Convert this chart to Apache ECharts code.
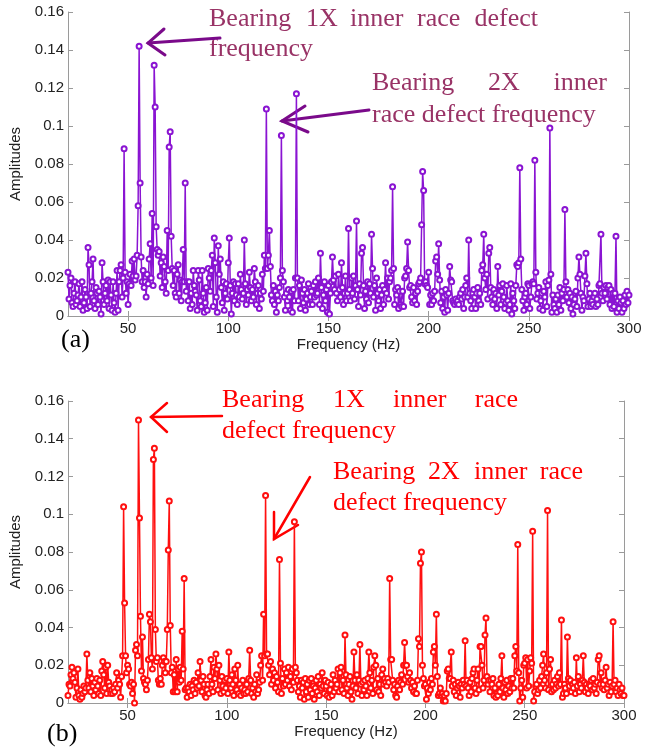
<!DOCTYPE html>
<html>
<head>
<meta charset="utf-8">
<script src="https://cdn.jsdelivr.net/npm/echarts@6/dist/echarts.min.js"></script>
<style>html,body{margin:0;padding:0;background:#fff}#c{width:657px;height:750px}</style>
</head>
<body>
<div id="c"></div>
<script>
// Frequency grid (Hz): first bin and bin spacing
const fStart = 20;
const fStep = 0.5;
const xTicks = [50, 100, 150, 200, 250, 300];

// (a) amplitudes, one row per 10 Hz (20 bins each), final value at 300 Hz
const ampA = [
.023,.009,.016,.020,.007,.005,.012,.018,.006,.008,.011,.017,.005,.010,.018,.003,.007,.014,.010,.004,
.036,.027,.005,.012,.018,.030,.008,.004,.015,.012,.006,.013,.010,.001,.028,.018,.006,.012,.016,.008,
.019,.004,.018,.011,.003,.018,.007,.002,.012,.024,.003,.018,.024,.027,.010,.020,.088,.023,.012,.018,
.006,.017,.022,.016,.029,.021,.030,.019,.021,.032,.058,.142,.070,.031,.018,.024,.015,.018,.010,.022,
.017,.030,.038,.020,.054,.016,.132,.110,.047,.035,.032,.034,.021,.028,.015,.031,.026,.018,.012,.045,
.024,.089,.097,.042,.025,.016,.024,.012,.010,.022,.027,.012,.019,.008,.018,.035,.018,.070,.013,.018,
.008,.018,.004,.012,.006,.024,.016,.013,.011,.003,.024,.019,.008,.005,.024,.012,.002,.007,.015,.003,
.025,.020,.013,.024,.032,.005,.041,.028,.010,.002,.037,.022,.030,.015,.007,.018,.003,.012,.017,.009,
.028,.041,.016,.001,.012,.018,.008,.017,.011,.006,.017,.010,.022,.014,.009,.012,.040,.017,.006,.014,
.011,.023,.015,.008,.014,.010,.025,.018,.006,.012,.016,.004,.012,.009,.022,.013,.032,.025,.109,.025,
.032,.045,.026,.011,.008,.016,.006,.013,.002,.011,.008,.015,.020,.095,.024,.018,.010,.003,.012,.008,
.014,.010,.003,.013,.002,.014,.008,.020,.117,.020,.008,.016,.004,.019,.012,.007,.014,.003,.009,.012,
.017,.006,.010,.013,.006,.016,.010,.018,.011,.012,.020,.006,.033,.015,.004,.011,.018,.008,.014,.002,
.016,.001,.012,.018,.031,.019,.014,.021,.012,.008,.022,.014,.010,.028,.015,.006,.012,.021,.008,.012,
.046,.014,.008,.020,.012,.021,.009,.016,.050,.014,.005,.017,.011,.033,.036,.016,.004,.013,.009,.018,
.007,.017,.012,.043,.025,.010,.016,.003,.020,.012,.008,.014,.004,.011,.016,.006,.014,.028,.012,.020,
.009,.018,.020,.024,.068,.025,.006,.014,.011,.015,.004,.013,.006,.005,.013,.005,.020,.021,.025,.039,
.024,.015,.016,.010,.007,.015,.008,.012,.006,.013,.017,.018,.020,.048,.076,.066,.017,.018,.016,.015,
.023,.006,.011,.006,.012,.008,.013,.029,.031,.022,.038,.019,.007,.013,.004,.010,.002,.014,.011,.003,
.012,.026,.019,.018,.008,.007,.006,.009,.007,.008,.006,.010,.012,.009,.014,.004,.010,.016,.020,.010,
.040,.012,.008,.004,.012,.014,.010,.004,.012,.015,.008,.012,.006,.024,.027,.043,.020,.014,.022,.009,
.033,.036,.015,.010,.006,.014,.009,.012,.004,.026,.011,.016,.006,.013,.017,.010,.004,.007,.016,.008,
.003,.006,.017,.001,.012,.008,.004,.016,.027,.026,.028,.078,.030,.014,.008,.003,.010,.012,.006,.017,
.016,.004,.010,.017,.018,.017,.082,.023,.009,.012,.015,.004,.008,.012,.003,.013,.010,.018,.005,.016,
.019,.099,.022,.002,.011,.006,.004,.009,.002,.011,.006,.015,.003,.012,.008,.014,.056,.018,.010,.014,
.007,.012,.004,.010,.001,.006,.009,.013,.005,.020,.031,.022,.012,.003,.010,.008,.021,.033,.017,.005,
.009,.012,.005,.008,.006,.010,.012,.005,.009,.006,.016,.017,.043,.012,.008,.015,.012,.016,.009,.015,
.016,.006,.014,.004,.012,.005,.012,.042,.002,.008,.004,.010,.007,.002,.008,.004,.011,.006,.013,.007,
.011
];

// (b) amplitudes, same bins
const ampB = [
.004,.010,.009,.015,.019,.013,.016,.011,.003,.008,.018,.004,.002,.007,.003,.005,.009,.006,.008,.026,
.012,.008,.016,.006,.013,.009,.004,.011,.007,.013,.009,.005,.012,.004,.017,.022,.015,.008,.019,.005,
.020,.011,.009,.005,.007,.005,.008,.006,.010,.016,.008,.012,.010,.003,.014,.025,.104,.053,.025,.016,
.020,.018,.010,.009,.011,.005,.010,.000,.028,.031,.025,.150,.098,.046,.017,.035,.013,.011,.010,.007,
.012,.023,.047,.043,.024,.018,.129,.135,.039,.022,.024,.012,.010,.013,.010,.020,.024,.022,.016,.022,
.039,.081,.107,.041,.016,.019,.006,.015,.006,.023,.006,.018,.011,.019,.012,.038,.018,.066,.007,.008,
.003,.008,.006,.010,.004,.009,.007,.012,.005,.011,.008,.016,.009,.022,.012,.006,.014,.010,.004,.003,
.007,.010,.005,.014,.023,.010,.006,.019,.013,.026,.018,.007,.020,.012,.005,.014,.009,.006,.012,.008,
.013,.005,.027,.012,.008,.015,.010,.004,.018,.012,.007,.020,.005,.010,.004,.008,.012,.005,.007,.005,
.010,.006,.013,.028,.012,.005,.008,.003,.010,.006,.015,.005,.007,.011,.020,.025,.012,.047,.025,.110,
.026,.026,.020,.015,.022,.010,.018,.012,.016,.008,.014,.011,.006,.076,.021,.005,.013,.009,.018,.010,
.016,.012,.019,.009,.014,.007,.018,.011,.096,.019,.016,.012,.006,.009,.003,.012,.008,.011,.002,.013,
.006,.010,.003,.012,.007,.013,.005,.009,.002,.008,.012,.006,.014,.004,.010,.008,.016,.009,.005,.012,
.009,.004,.011,.003,.007,.010,.004,.015,.006,.012,.008,.010,.018,.006,.016,.019,.007,.012,.005,.036,
.015,.008,.004,.010,.014,.006,.002,.009,.027,.012,.008,.015,.005,.012,.031,.010,.004,.011,.007,.012,
.009,.004,.013,.027,.016,.008,.012,.005,.019,.025,.020,.007,.013,.006,.010,.004,.015,.018,.010,.013,
.011,.009,.013,.011,.066,.023,.023,.012,.007,.010,.004,.003,.009,.012,.007,.011,.015,.010,.020,.032,
.020,.020,.014,.011,.016,.012,.008,.011,.006,.009,.005,.005,.012,.034,.030,.074,.080,.020,.013,.009,
.010,.002,.008,.005,.011,.007,.013,.010,.027,.030,.020,.047,.014,.004,.005,.008,.004,.005,.001,.004,
.001,.005,.017,.018,.013,.013,.027,.009,.012,.006,.010,.004,.008,.011,.009,.003,.010,.008,.012,.010,
.033,.009,.012,.008,.004,.011,.006,.013,.016,.018,.008,.005,.012,.018,.007,.030,.030,.020,.008,.012,
.036,.045,.014,.010,.012,.006,.012,.010,.013,.004,.008,.003,.005,.004,.010,.006,.013,.025,.008,.003,
.011,.007,.012,.005,.009,.006,.013,.008,.013,.008,.025,.030,.017,.084,.016,.001,.008,.012,.003,.020,
.021,.024,.008,.023,.009,.017,.024,.021,.091,.001,.006,.009,.010,.005,.007,.012,.008,.014,.020,.026,
.012,.008,.016,.102,.007,.018,.023,.006,.010,.007,.012,.008,.010,.014,.009,.016,.010,.044,.003,.005,
.010,.008,.005,.035,.013,.009,.012,.006,.010,.008,.011,.005,.024,.009,.014,.006,.010,.008,.012,.025,
.011,.006,.010,.008,.005,.010,.009,.012,.007,.013,.008,.010,.005,.011,.023,.025,.010,.016,.008,.010,
.007,.012,.019,.008,.010,.004,.011,.006,.009,.043,.010,.012,.006,.008,.004,.010,.007,.005,.008,.004,
.004
];

const toPairs = arr => arr.map((v, i) => [fStart + i * fStep, v]);

const purple = '#8A14D2';
const red = '#FF1010';
const frame = '#9a9a9a';
const sans = 'Liberation Sans';
const serif = 'Liberation Serif';

function xAxes(grid) {
  return [
    {
      gridIndex: grid, type: 'value', min: 20, max: 300, position: 'bottom',
      axisLine: {show: true, lineStyle: {color: frame, width: 1}},
      axisTick: {show: true, inside: true, length: 5, customValues: xTicks, lineStyle: {color: frame}},
      axisLabel: {show: true, customValues: xTicks, color: '#222', fontSize: 15, fontFamily: sans, margin: 5},
      splitLine: {show: false},
      name: 'Frequency (Hz)', nameLocation: 'middle', nameGap: 21,
      nameTextStyle: {color: '#222', fontSize: 15, fontFamily: sans}
    },
    {
      gridIndex: grid, type: 'value', min: 20, max: 300, position: 'top',
      axisLine: {show: true, lineStyle: {color: frame, width: 1}},
      axisTick: {show: true, inside: true, length: 5, customValues: xTicks, lineStyle: {color: frame}},
      axisLabel: {show: false},
      splitLine: {show: false}
    }
  ];
}
function yAxes(grid) {
  return [
    {
      gridIndex: grid, type: 'value', min: 0, max: 0.16, interval: 0.02, position: 'left',
      axisLine: {show: true, lineStyle: {color: frame, width: 1}},
      axisTick: {show: true, inside: true, length: 5, lineStyle: {color: frame}},
      axisLabel: {color: '#222', fontSize: 15, fontFamily: sans, margin: 4},
      splitLine: {show: false},
      name: 'Amplitudes', nameLocation: 'middle', nameGap: 45, nameRotate: 90,
      nameTextStyle: {color: '#222', fontSize: 15, fontFamily: sans}
    },
    {
      gridIndex: grid, type: 'value', min: 0, max: 0.16, interval: 0.02, position: 'right',
      axisLine: {show: true, lineStyle: {color: frame, width: 1}},
      axisTick: {show: true, inside: true, length: 5, lineStyle: {color: frame}},
      axisLabel: {show: false},
      splitLine: {show: false}
    }
  ];
}

function word(text, x, y, color, align) {
  return {type: 'text', x: x, y: y, silent: true,
    style: {text: text, fill: color, font: '26px "' + serif + '"', textAlign: align || 'left', textVerticalAlign: 'middle'}};
}
function arrow(shaft, head, color, w) {
  return [
    {type: 'polyline', silent: true, shape: {points: shaft}, style: {stroke: color, lineWidth: w, fill: null, lineCap: 'round'}},
    {type: 'polyline', silent: true, shape: {points: head}, style: {stroke: color, lineWidth: w, fill: null, lineCap: 'round', lineJoin: 'miter'}}
  ];
}

const annA = '#993366';
const arrA = '#7A0A8A';
const annB = '#FF0000';

const graphics = [
  // (a) annotations
  word('Bearing', 209, 19, annA), word('1X', 306, 19, annA), word('inner', 350, 19, annA),
  word('race', 417, 19, annA), word('defect', 538, 19, annA, 'right'),
  word('frequency', 209, 49, annA),
  word('Bearing', 372, 83, annA), word('2X', 488, 83, annA), word('inner', 607, 83, annA, 'right'),
  word('race defect frequency', 372, 115, annA),
  ...arrow([[220, 38], [148, 43]], [[164, 29], [148, 43], [165, 55]], arrA, 3),
  ...arrow([[369, 110], [282, 121]], [[305, 106], [282, 121], [308, 132]], arrA, 3),
  // (b) annotations
  word('Bearing', 222, 400, annB), word('1X', 333, 400, annB), word('inner', 393, 400, annB),
  word('race', 518, 400, annB, 'right'),
  word('defect frequency', 222, 431, annB),
  word('Bearing', 333, 472, annB), word('2X', 428, 472, annB), word('inner', 474, 472, annB),
  word('race', 583, 472, annB, 'right'),
  word('defect frequency', 333, 503, annB),
  ...arrow([[222, 416], [151, 417]], [[167, 403], [151, 417], [167, 432]], annB, 2.5),
  ...arrow([[310, 477], [274, 539]], [[274, 512], [274, 539], [298, 525]], annB, 2.5),
  // panel tags
  word('(a)', 61, 340, '#000'),
  word('(b)', 47, 734, '#000')
];

const chart = echarts.init(document.getElementById('c'), null, {renderer: 'canvas'});
chart.setOption({
  animation: false,
  backgroundColor: '#fff',
  grid: [
    {left: 65, top: 12, width: 564, height: 304},
    {left: 63, top: 401, width: 561, height: 302}
  ],
  xAxis: [...xAxes(0), ...xAxes(1)],
  yAxis: [...yAxes(0), ...yAxes(1)],
  series: [
    {
      type: 'line', xAxisIndex: 0, yAxisIndex: 0, data: toPairs(ampA),
      symbol: 'emptyCircle', symbolSize: 5, showSymbol: true,
      lineStyle: {color: purple, width: 1.5},
      itemStyle: {color: purple, borderColor: purple, borderWidth: 1.2},
      emphasis: {disabled: true}
    },
    {
      type: 'line', xAxisIndex: 2, yAxisIndex: 2, data: toPairs(ampB),
      symbol: 'emptyCircle', symbolSize: 5, showSymbol: true,
      lineStyle: {color: red, width: 1.5},
      itemStyle: {color: red, borderColor: red, borderWidth: 1.2},
      emphasis: {disabled: true}
    }
  ],
  graphic: graphics
});
</script>
</body>
</html>
